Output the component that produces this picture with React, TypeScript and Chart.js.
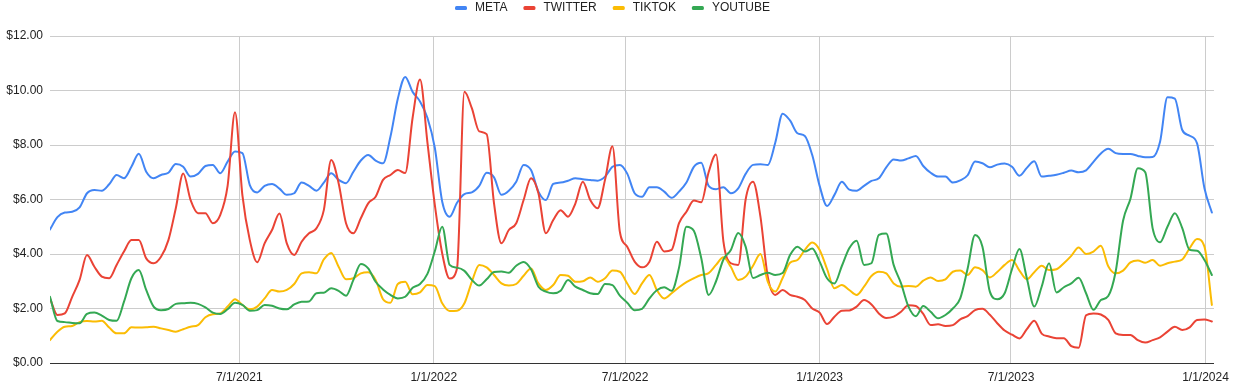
import React, { useEffect, useRef } from 'react';
import { Chart, registerables } from 'chart.js';

Chart.register(...registerables);

// ---- data ----
const START_DATE = '2021-01-03';
const X_MAX_DAYS = 1101;

const tickDates = ['2021-07-01', '2022-01-01', '2022-07-01', '2023-01-01', '2023-07-01', '2024-01-01'];
const tickLabels = ['7/1/2021', '1/1/2022', '7/1/2022', '1/1/2023', '7/1/2023', '1/1/2024'];

const seriesNames = ['META', 'TWITTER', 'TIKTOK', 'YOUTUBE'];
const seriesColors = ['#4285F4', '#EA4335', '#FBBC04', '#34A853'];

// weekly values, starting 2021-01-03
const meta = [
  4.9, 5.35, 5.52, 5.55, 5.71, 6.23, 6.35, 6.32, 6.56, 6.9,
  6.78, 7.2, 7.68, 7.02, 6.78, 6.9, 6.98, 7.3, 7.2, 6.84,
  6.94, 7.23, 7.27, 6.96, 7.39, 7.76, 7.7, 6.53, 6.26, 6.5,
  6.57, 6.4, 6.17, 6.23, 6.62, 6.5, 6.32, 6.62, 6.96, 6.72,
  6.6, 7.02, 7.43, 7.63, 7.43, 7.33, 8.3, 9.7, 10.5, 9.95,
  9.6, 9.0, 7.9, 5.92, 5.37, 5.88, 6.2, 6.26, 6.5, 6.98,
  6.81, 6.17, 6.32, 6.65, 7.27, 7.08, 6.29, 5.98, 6.57, 6.62,
  6.69, 6.78, 6.74, 6.72, 6.69, 6.84, 7.2, 7.27, 6.95, 6.23,
  6.1, 6.45, 6.45, 6.29, 6.06, 6.29, 6.62, 7.2, 7.35, 6.5,
  6.38, 6.45, 6.23, 6.41, 6.94, 7.27, 7.29, 7.27, 8.08, 9.15,
  8.9, 8.43, 8.33, 7.63, 6.5, 5.76, 6.17, 6.65, 6.36, 6.32,
  6.5, 6.68, 6.78, 7.18, 7.47, 7.43, 7.51, 7.6, 7.23, 6.98,
  6.84, 6.84, 6.62, 6.7, 6.89, 7.39, 7.33, 7.18, 7.28, 7.32,
  7.2, 6.87, 7.16, 7.4, 6.84, 6.87, 6.91, 6.98, 7.06, 7.0,
  7.07, 7.38, 7.69, 7.86, 7.7, 7.67, 7.67, 7.6, 7.55, 7.56,
  8.12, 9.75, 9.7, 8.55, 8.34, 8.06, 6.41, 5.52,
];

const twitter = [
  2.37, 1.76, 1.82, 2.43, 3.05, 3.96, 3.53, 3.17, 3.11, 3.6,
  4.09, 4.51, 4.51, 3.84, 3.66, 3.9, 4.51, 5.68, 6.95, 5.98,
  5.5, 5.5, 5.13, 5.43, 6.5, 9.2, 6.15, 4.51, 3.7, 4.39,
  4.88, 5.49, 4.39, 3.96, 4.45, 4.76, 4.94, 5.61, 7.45, 6.6,
  5.13, 4.76, 5.31, 5.86, 6.1, 6.72, 6.9, 7.08, 6.97, 9.0,
  10.4, 8.1, 5.8, 4.02, 3.1, 3.47, 9.95, 9.35, 8.5, 8.4,
  5.86, 4.39, 4.88, 5.13, 5.98, 6.78, 6.23, 4.76, 5.25, 5.61,
  5.37, 5.86, 6.65, 5.98, 5.68, 6.72, 7.95, 4.82, 4.27, 3.72,
  3.51, 3.72, 4.45, 4.09, 4.15, 5.13, 5.55, 5.96, 5.9, 7.0,
  7.65, 4.45, 3.66, 3.6, 6.0, 6.65, 5.37, 3.15, 2.5, 2.68,
  2.5, 2.43, 2.31, 2.0, 1.85, 1.43, 1.7, 1.92, 1.93, 2.07,
  2.31, 2.15, 1.82, 1.65, 1.7, 1.88, 2.12, 2.09, 1.8, 1.39,
  1.42, 1.36, 1.39, 1.6, 1.72, 1.94, 1.99, 1.77, 1.46, 1.19,
  1.04, 0.9, 1.24, 1.55, 1.08, 0.97, 0.91, 0.91, 0.62, 0.56,
  1.75, 1.82, 1.78, 1.58, 1.09, 1.03, 1.03, 0.84, 0.75, 0.84,
  0.94, 1.15, 1.33, 1.21, 1.31, 1.58, 1.6, 1.52,
];

const tiktok = [
  0.84, 1.15, 1.33, 1.36, 1.5, 1.54, 1.52, 1.55, 1.3, 1.09,
  1.09, 1.31, 1.3, 1.31, 1.33, 1.27, 1.21, 1.15, 1.24, 1.33,
  1.39, 1.68, 1.79, 1.82, 2.07, 2.34, 2.13, 1.97, 2.07, 2.37,
  2.68, 2.62, 2.68, 2.9, 3.29, 3.33, 3.29, 3.8, 4.04, 3.53,
  3.07, 3.11, 3.29, 3.33, 3.05, 2.34, 2.21, 2.9, 2.98, 2.52,
  2.59, 2.86, 2.82, 2.19, 1.91, 1.92, 2.19, 2.98, 3.6, 3.51,
  3.23, 2.92, 2.84, 2.9, 3.2, 3.47, 2.92, 2.68, 2.86, 3.23,
  3.2, 2.98, 3.0, 3.14, 2.98, 3.11, 3.39, 3.35, 2.92, 2.53,
  2.92, 3.23, 2.68, 2.37, 2.56, 2.78, 2.97, 3.11, 3.23, 3.3,
  3.6, 3.88, 3.53, 3.05, 3.17, 3.57, 4.0, 2.98, 2.62, 3.12,
  3.68, 3.78, 4.15, 4.42, 4.15, 3.45, 2.74, 2.86, 2.68, 2.5,
  2.8, 3.19, 3.35, 3.29, 2.92, 2.8, 2.83, 2.8, 3.02, 3.14,
  3.01, 3.07, 3.35, 3.39, 3.23, 3.51, 3.41, 3.14, 3.34, 3.6,
  3.78, 3.39, 3.07, 3.33, 3.57, 3.41, 3.44, 3.66, 3.93, 4.24,
  4.0, 4.09, 4.3, 3.55, 3.29, 3.39, 3.69, 3.76, 3.68, 3.78,
  3.57, 3.66, 3.72, 3.8, 4.21, 4.55, 4.27, 2.13,
];

const youtube = [
  2.43, 1.54, 1.5, 1.47, 1.46, 1.8, 1.85, 1.74, 1.58, 1.55,
  2.25, 3.11, 3.41, 2.68, 2.07, 1.94, 1.98, 2.17, 2.19, 2.21,
  2.17, 2.04, 1.85, 1.8, 1.97, 2.21, 2.13, 1.92, 1.94, 2.13,
  2.1, 2.0, 1.97, 2.15, 2.25, 2.26, 2.56, 2.58, 2.74, 2.65,
  2.47, 3.05, 3.63, 3.47, 2.98, 2.7, 2.5, 2.37, 2.43, 2.76,
  2.9, 3.27, 4.1, 5.0, 3.6, 3.5, 3.38, 3.05, 2.84, 3.07,
  3.34, 3.36, 3.31, 3.57, 3.71, 3.44, 2.8, 2.62, 2.56, 2.65,
  3.05, 2.8, 2.68, 2.56, 2.53, 2.9, 2.86, 2.47, 2.21, 1.94,
  1.99, 2.37, 2.67, 2.78, 2.65, 3.5, 5.0, 4.85, 3.85, 2.5,
  3.0, 3.8, 4.15, 4.77, 4.27, 3.12, 3.23, 3.31, 3.23, 3.3,
  3.96, 4.27, 4.09, 4.2, 3.72, 3.11, 2.92, 3.56, 4.21, 4.49,
  3.6, 3.66, 4.7, 4.75, 3.6, 2.92, 2.07, 1.72, 2.09, 1.88,
  1.64, 1.76, 2.0, 2.37, 3.47, 4.7, 4.27, 2.62, 2.34, 2.56,
  3.45, 4.18, 3.11, 2.07, 2.8, 3.66, 2.59, 2.78, 2.92, 3.13,
  2.56, 1.95, 2.31, 2.46, 3.35, 5.22, 6.03, 7.15, 7.0, 4.94,
  4.43, 5.0, 5.5, 4.95, 4.15, 4.12, 3.78, 3.23,
];

const seriesValues = [meta, twitter, tiktok, youtube];

// ---- helpers ----
const DAY_MS = 86400000;
const dayOffset = (iso: string) => Math.round((Date.parse(iso) - Date.parse(START_DATE)) / DAY_MS);
const tickDays = tickDates.map(dayOffset);

const FONT_FAMILY = '"Liberation Sans", Arial, Helvetica, sans-serif';
const TEXT_COLOR = '#222222';
const GRID_COLOR = '#cccccc';
const AXIS_COLOR = '#333333';

const legendPlugin = {
  id: 'sheetLegend',
  afterDraw(chart: any) {
    const ctx = chart.ctx as CanvasRenderingContext2D;
    ctx.save();
    ctx.font = `12px ${FONT_FAMILY}`;
    ctx.textBaseline = 'middle';
    ctx.textAlign = 'left';
    const boxW = 12;
    const boxH = 4;
    const textGap = 8;
    const itemGap = 16;
    const widths = seriesNames.map((n) => ctx.measureText(n).width);
    const total =
      widths.reduce((a, w) => a + boxW + textGap + w, 0) + itemGap * (seriesNames.length - 1);
    const center = 612;
    let x = Math.round(center - total / 2);
    const yMid = 8;
    seriesNames.forEach((name, i) => {
      ctx.fillStyle = seriesColors[i];
      ctx.beginPath();
      const r = 1.5;
      const bx = x;
      const by = yMid - boxH / 2;
      ctx.moveTo(bx + r, by);
      ctx.lineTo(bx + boxW - r, by);
      ctx.quadraticCurveTo(bx + boxW, by, bx + boxW, by + r);
      ctx.lineTo(bx + boxW, by + boxH - r);
      ctx.quadraticCurveTo(bx + boxW, by + boxH, bx + boxW - r, by + boxH);
      ctx.lineTo(bx + r, by + boxH);
      ctx.quadraticCurveTo(bx, by + boxH, bx, by + boxH - r);
      ctx.lineTo(bx, by + r);
      ctx.quadraticCurveTo(bx, by, bx + r, by);
      ctx.fill();
      ctx.fillStyle = TEXT_COLOR;
      ctx.fillText(name, x + boxW + textGap, yMid);
      x += boxW + textGap + widths[i] + itemGap;
    });
    ctx.restore();
  },
};

export default function App() {
  const canvasRef = useRef<HTMLCanvasElement | null>(null);

  useEffect(() => {
    document.body.style.margin = '0';
    const canvas = canvasRef.current;
    if (!canvas) return;
    Chart.defaults.font.family = FONT_FAMILY;

    const datasets = seriesNames.map((name, s) => ({
      label: name,
      data: seriesValues[s].map((v, i) => ({ x: i * 7, y: v })),
      borderColor: seriesColors[s],
      backgroundColor: seriesColors[s],
      borderWidth: 2,
      pointRadius: 0,
      pointHoverRadius: 0,
      cubicInterpolationMode: 'monotone' as const,
      borderJoinStyle: 'round' as const,
      borderCapStyle: 'round' as const,
      order: seriesNames.length - 1 - s,
    }));

    const chart = new Chart(canvas, {
      type: 'line',
      data: { datasets },
      plugins: [legendPlugin],
      options: {
        animation: false,
        responsive: false,
        devicePixelRatio: 1,
        layout: { padding: { top: 36, right: 18, bottom: 0, left: 0 } },
        plugins: {
          legend: { display: false },
          tooltip: { enabled: false },
        },
        scales: {
          x: {
            type: 'linear',
            min: 0,
            max: X_MAX_DAYS,
            afterBuildTicks: (scale: any) => {
              scale.ticks = tickDays.map((v) => ({ value: v }));
            },
            afterFit: (scale: any) => {
              scale.height = 29;
            },
            ticks: {
              autoSkip: false,
              maxRotation: 0,
              minRotation: 0,
              padding: 7,
              color: TEXT_COLOR,
              font: { size: 12, family: FONT_FAMILY },
              callback: (value: any) => {
                const idx = tickDays.indexOf(Number(value));
                return idx >= 0 ? tickLabels[idx] : '';
              },
            },
            grid: { color: GRID_COLOR, drawTicks: false, lineWidth: 1 },
            border: { display: true, color: AXIS_COLOR, width: 1 },
          },
          y: {
            min: 0,
            max: 12,
            afterFit: (scale: any) => {
              scale.width = 50;
            },
            ticks: {
              stepSize: 2,
              padding: 7,
              color: TEXT_COLOR,
              font: { size: 12, family: FONT_FAMILY },
              callback: (value: any) => '$' + Number(value).toFixed(2),
            },
            grid: {
              drawTicks: false,
              lineWidth: 1,
              color: (ctx: any) => (ctx.tick && ctx.tick.value === 0 ? AXIS_COLOR : GRID_COLOR),
            },
            border: { display: false },
          },
        },
      },
    });

    return () => {
      chart.destroy();
    };
  }, []);

  return (
    <div style={{ width: 1236, height: 392, background: '#ffffff' }}>
      <canvas ref={canvasRef} width={1236} height={392} style={{ display: 'block' }} />
    </div>
  );
}
